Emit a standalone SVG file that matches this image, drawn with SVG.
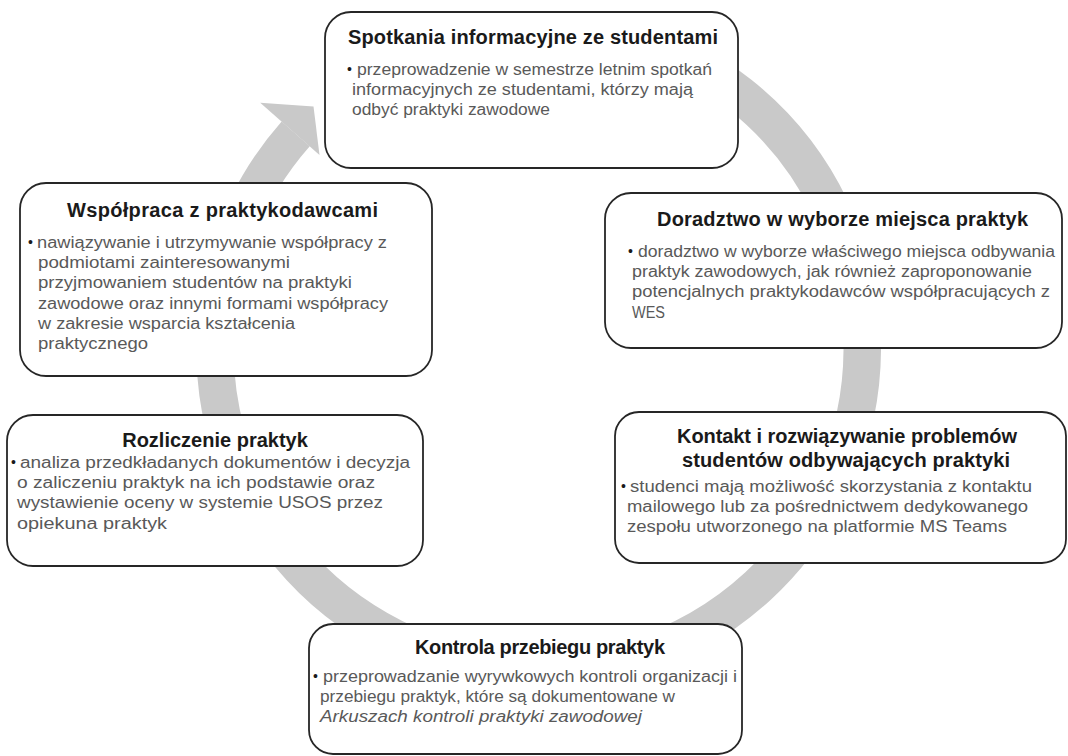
<svg xmlns="http://www.w3.org/2000/svg" width="1068" height="756" viewBox="0 0 1068 756">
<style>
.box{fill:#fff;stroke:#262626;stroke-width:1.8}
.t{font-family:"Liberation Sans",Arial,sans-serif;font-weight:bold;font-size:20px;fill:#1a1a1a;text-anchor:middle}
.b{font-family:"Liberation Sans",Arial,sans-serif;font-size:16px;fill:#595959}
.bl{font-family:"Liberation Sans",Arial,sans-serif;font-size:14px;fill:#1a1a1a}
.ring{fill:none;stroke:#c9c9c9;stroke-width:37.5}
</style>
<rect width="1068" height="756" fill="#fff"/>
<g id="connectors">
<path class="ring" d="M 622.3 35.3 A 323.75 323.75 0 1 1 295.7 133.9"/>
<polygon points="260.2,102.7 313.5,106.6 319.5,154.9" fill="#c9c9c9"/>
</g>
<g id="node-spotkania">
<rect class="box" x="325" y="12" width="413" height="156" rx="26"/>
<text class="t" x="533" y="44" textLength="370">Spotkania informacyjne ze studentami</text>
<text class="bl" x="347" y="74">•</text>
<text class="b" x="357" y="75" textLength="355" lengthAdjust="spacingAndGlyphs">przeprowadzenie  w semestrze letnim  spotkań</text>
<text class="b" x="352" y="95" textLength="341" lengthAdjust="spacingAndGlyphs">informacyjnych ze studentami, którzy mają</text>
<text class="b" x="352" y="115" textLength="198" lengthAdjust="spacingAndGlyphs">odbyć  praktyki zawodowe</text>
</g>
<g id="node-wspolpraca">
<rect class="box" x="20" y="183" width="412" height="193" rx="26"/>
<text class="t" x="222.5" y="217" textLength="311">Współpraca z praktykodawcami</text>
<text class="bl" x="28" y="247">•</text>
<text class="b" x="37" y="248" textLength="350" lengthAdjust="spacingAndGlyphs">nawiązywanie  i utrzymywanie  współpracy z</text>
<text class="b" x="38" y="268" textLength="252" lengthAdjust="spacingAndGlyphs">podmiotami zainteresowanymi</text>
<text class="b" x="38" y="288" textLength="314" lengthAdjust="spacingAndGlyphs">przyjmowaniem  studentów  na praktyki</text>
<text class="b" x="38" y="309" textLength="350" lengthAdjust="spacingAndGlyphs">zawodowe  oraz innymi formami współpracy</text>
<text class="b" x="38" y="329" textLength="257" lengthAdjust="spacingAndGlyphs">w zakresie  wsparcia  kształcenia</text>
<text class="b" x="38" y="349" textLength="110" lengthAdjust="spacingAndGlyphs">praktycznego</text>
</g>
<g id="node-doradztwo">
<rect class="box" x="605" y="193" width="457" height="155" rx="26"/>
<text class="t" x="842.5" y="226" textLength="371">Doradztwo w wyborze miejsca praktyk</text>
<text class="bl" x="628" y="256">•</text>
<text class="b" x="638" y="257" textLength="417" lengthAdjust="spacingAndGlyphs">doradztwo  w wyborze  właściwego  miejsca odbywania</text>
<text class="b" x="632" y="277" textLength="400" lengthAdjust="spacingAndGlyphs">praktyk  zawodowych, jak również zaproponowanie</text>
<text class="b" x="632" y="297" textLength="418" lengthAdjust="spacingAndGlyphs">potencjalnych praktykodawców  współpracujących  z</text>
<text class="b" x="632" y="318" textLength="33" lengthAdjust="spacingAndGlyphs">WES</text>
</g>
<g id="node-rozliczenie">
<rect class="box" x="7" y="415" width="416" height="151" rx="26"/>
<text class="t" x="215" y="447">Rozliczenie praktyk</text>
<text class="bl" x="11" y="467">•</text>
<text class="b" x="20" y="468" textLength="390" lengthAdjust="spacingAndGlyphs">analiza  przedkładanych  dokumentów  i decyzja</text>
<text class="b" x="17" y="488" textLength="358" lengthAdjust="spacingAndGlyphs">o zaliczeniu  praktyk  na ich podstawie  oraz</text>
<text class="b" x="17" y="508" textLength="366" lengthAdjust="spacingAndGlyphs">wystawienie  oceny w systemie  USOS przez</text>
<text class="b" x="17" y="529" textLength="150" lengthAdjust="spacingAndGlyphs">opiekuna  praktyk</text>
</g>
<g id="node-kontakt">
<rect class="box" x="615" y="412" width="451" height="151" rx="24"/>
<text class="t" x="847" y="443" textLength="340">Kontakt i rozwiązywanie problemów</text>
<text class="t" x="846" y="467" textLength="328">studentów odbywających praktyki</text>
<text class="bl" x="621" y="491">•</text>
<text class="b" x="630" y="492" textLength="402" lengthAdjust="spacingAndGlyphs">studenci mają możliwość  skorzystania  z kontaktu</text>
<text class="b" x="627" y="512" textLength="401" lengthAdjust="spacingAndGlyphs">mailowego  lub za pośrednictwem  dedykowanego</text>
<text class="b" x="627" y="532" textLength="380" lengthAdjust="spacingAndGlyphs">zespołu utworzonego  na platformie MS Teams</text>
</g>
<g id="node-kontrola">
<rect class="box" x="309" y="624" width="433" height="130" rx="24"/>
<text class="t" x="540" y="654" textLength="250">Kontrola przebiegu praktyk</text>
<text class="bl" x="313" y="681">•</text>
<text class="b" x="323" y="682" textLength="414" lengthAdjust="spacingAndGlyphs">przeprowadzanie  wyrywkowych  kontroli organizacji  i</text>
<text class="b" x="320" y="702" textLength="355" lengthAdjust="spacingAndGlyphs">przebiegu praktyk,  które są dokumentowane  w</text>
<text class="b" x="320" y="722" textLength="322" lengthAdjust="spacingAndGlyphs" font-style="italic">Arkuszach  kontroli praktyki zawodowej</text>
</g>
</svg>
